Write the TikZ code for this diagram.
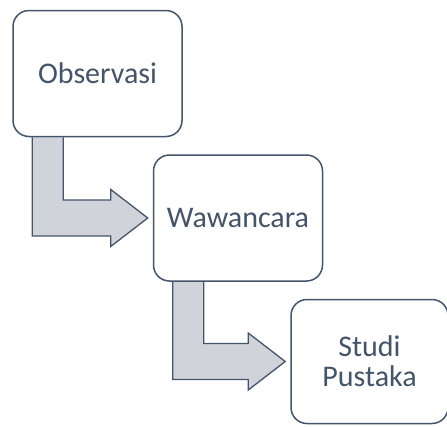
\documentclass[tikz,border=0pt]{standalone}
\usepackage{fontspec}
\setmainfont{Carlito}
\usetikzlibrary{positioning,calc,backgrounds}
\definecolor{slate}{HTML}{44546A}
\definecolor{arrowgray}{HTML}{D0D4DA}
\tikzset{
  stepbox/.style={draw=slate, line width=1.5pt, fill=white, rounded corners=16pt,
    minimum width=169pt, minimum height=126pt, text=slate, align=center,
    font=\fontsize{30}{30}\selectfont},
  bentarrow/.style={draw=slate, line width=1.3pt, fill=arrowgray, line join=miter}
}
\begin{document}
\begin{tikzpicture}[x=1pt,y=-1pt]
  \useasboundingbox (0,0) rectangle (447,426);
  \node[stepbox] (obs) at (97.5,73.5) {Observasi};
  \node[stepbox, below right=17pt and -30pt of obs] (waw) {Wawancara};
  \node[stepbox, minimum width=157pt, minimum height=124pt,
        below right=17pt and -33pt of waw] (stu) {Studi\\Pustaka};
  \begin{pgfonlayer}{background}
    \foreach \a/\b in {obs/waw, waw/stu} {
      \draw[bentarrow] let \p1=(\a.south west), \p2=(\b.west) in
        (\x1+20pt,\y1) -- (\x1+20pt,\y2-18pt) -- (\x2-42pt,\y2-18pt)
        -- (\x2-42pt,\y2-28.5pt) -- (\x2-5pt,\y2) -- (\x2-42pt,\y2+28.5pt)
        -- (\x2-42pt,\y2+18pt) -- (\x1+51pt,\y2+18pt) -- (\x1+51pt,\y1);
    }
  \end{pgfonlayer}
\end{tikzpicture}
\end{document}
